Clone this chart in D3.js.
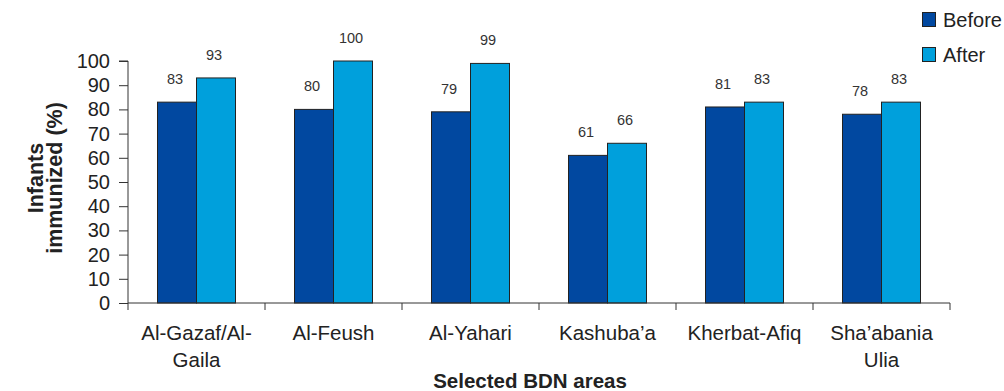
<!DOCTYPE html>
<html>
<head>
<meta charset="utf-8">
<script src="https://cdn.jsdelivr.net/npm/d3@7"></script>
<style>
  html, body { margin: 0; padding: 0; background: #fff; }
  svg { display: block; font-family: "Liberation Sans", Arial, sans-serif; }
</style>
</head>
<body>
<svg id="chart" width="1004" height="391"></svg>
<script>
// Immunization coverage by area, before and after the intervention
const areas = [["Al-Gazaf/Al-", "Gaila"], ["Al-Feush"], ["Al-Yahari"], ["Kashuba\u2019a"], ["Kherbat-Afiq"], ["Sha\u2019abania", "Ulia"]];
const areaKeys = areas.map(a => a.join(" "));
const seriesNames = ["Before", "After"];
const before = [83, 80, 79, 61, 81, 78];
const after = [93, 100, 99, 66, 83, 83];
const yTicks = [0, 10, 20, 30, 40, 50, 60, 70, 80, 90, 100];
const colors = ["#0148a0", "#00a0dc"];

const svg = d3.select("#chart");
const x0 = 128, x1 = 950, yBottom = 303, yTop = 61;

const x = d3.scaleBand().domain(areaKeys).range([x0, x1]).padding(0);
const y = d3.scaleLinear().domain([0, 100]).range([yBottom, yTop]);
const groupW = 78;
const xs = d3.scaleBand().domain(seriesNames).range([0, groupW]).padding(0);

const data = areaKeys.map((k, i) => ({ key: k, values: [before[i], after[i]] }));

// Bars
const g = svg.append("g");
const groups = g.selectAll("g.area").data(data).join("g")
  .attr("transform", d => `translate(${x(d.key) + (x.bandwidth() - groupW) / 2},0)`);

groups.selectAll("rect").data(d => d.values.map((v, j) => ({ s: seriesNames[j], v, j })))
  .join("rect")
  .attr("x", d => xs(d.s))
  .attr("y", d => y(d.v))
  .attr("width", xs.bandwidth())
  .attr("height", d => y(0) - y(d.v))
  .attr("fill", d => colors[d.j])
  .attr("stroke", "#222")
  .attr("stroke-width", 1);

groups.selectAll("text.val").data(d => d.values.map((v, j) => ({ s: seriesNames[j], v, j })))
  .join("text")
  .attr("class", "val")
  .attr("x", d => xs(d.s) + xs.bandwidth() / 2 - 2)
  .attr("y", d => y(d.v) - 18)
  .attr("text-anchor", "middle")
  .attr("font-size", 14.5)
  .attr("fill", "#333")
  .text(d => d.v);

// Y axis
const yAxis = d3.axisLeft(y).tickValues(yTicks).tickSize(9).tickPadding(9);
const gy = svg.append("g").attr("transform", `translate(${x0},0)`).call(yAxis);
gy.select(".domain").attr("stroke", "#333").attr("d", `M-9,${yTop}H0V${yBottom}`);
gy.selectAll(".tick line").attr("stroke", "#333");
gy.selectAll(".tick text").attr("font-size", 20).attr("fill", "#222").attr("font-family", "Liberation Sans, Arial, sans-serif");

// X axis
const xAxis = d3.axisBottom(x).tickSize(0).tickFormat(() => "");
const gx = svg.append("g").attr("transform", `translate(0,${yBottom})`).call(xAxis);
gx.select(".domain").attr("stroke", "#333").attr("d", `M${x0},0H${x1}`);
// boundary tick marks between categories
const bounds = areaKeys.map(k => x(k)).concat([x1]);
gx.selectAll("line.bnd").data(bounds).join("line")
  .attr("class", "bnd")
  .attr("x1", d => d).attr("x2", d => d)
  .attr("y1", 0).attr("y2", 7)
  .attr("stroke", "#333");

// Category labels (multi-line)
const catLabels = svg.append("g");
areas.forEach((lines, i) => {
  const cx = x(areaKeys[i]) + x.bandwidth() / 2;
  const t = catLabels.append("text")
    .attr("x", cx)
    .attr("y", 340)
    .attr("text-anchor", "middle")
    .attr("font-size", 20.5)
    .attr("fill", "#222");
  lines.forEach((ln, k) => {
    t.append("tspan").attr("x", cx).attr("dy", k === 0 ? 0 : 27).text(ln);
  });
});

// Axis titles
svg.append("text")
  .attr("x", 530).attr("y", 388)
  .attr("text-anchor", "middle")
  .attr("font-size", 20.5).attr("font-weight", "bold").attr("fill", "#222")
  .text("Selected BDN areas");

const yt = svg.append("text")
  .attr("transform", "translate(43,178) rotate(-90)")
  .attr("text-anchor", "middle")
  .attr("font-size", 21.5).attr("font-weight", "bold").attr("fill", "#222");
yt.append("tspan").attr("x", 0).attr("dy", 0).text("Infants");
yt.append("tspan").attr("x", 0).attr("dy", 19).text("immunized (%)");

// Legend
const legend = svg.append("g");
seriesNames.forEach((s, i) => {
  const ly = 12 + i * 35;
  legend.append("rect")
    .attr("x", 922.5).attr("y", ly + 0.5).attr("width", 13).attr("height", 14)
    .attr("fill", colors[i]).attr("stroke", "#222");
  legend.append("text")
    .attr("x", 943).attr("y", ly + 15)
    .attr("font-size", 20).attr("fill", "#222")
    .text(s);
});
</script>
</body>
</html>
